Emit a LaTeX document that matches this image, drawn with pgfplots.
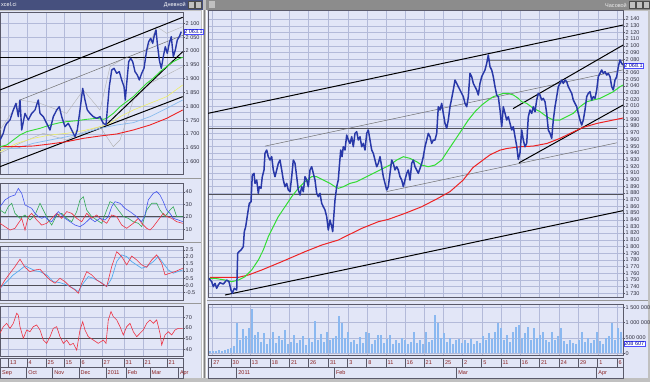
\documentclass[border=0pt]{standalone}
\usepackage{fontspec}
\setmainfont{Liberation Sans}
\usepackage{pgfplots}
\pgfplotsset{compat=1.18}
\definecolor{framec}{HTML}{C0C0C0}
\definecolor{bgc}{HTML}{E2E6F7}
\definecolor{gridc}{HTML}{B3BAD9}
\definecolor{bordc}{HTML}{5A5A6A}
\definecolor{labc}{HTML}{303040}
\definecolor{datec}{HTML}{8A2020}
\definecolor{pblue}{HTML}{2838A8}
\definecolor{magreen}{HTML}{33DD33}
\definecolor{mared}{HTML}{EE2222}
\definecolor{mayellow}{HTML}{EEEE66}
\definecolor{malblue}{HTML}{88BBEE}
\definecolor{chgray}{HTML}{707070}
\definecolor{hline}{HTML}{505058}
\definecolor{adxblue}{HTML}{4455EE}
\definecolor{adxgreen}{HTML}{33AA55}
\definecolor{indred}{HTML}{EE3344}
\definecolor{sigblue}{HTML}{55AAEE}
\definecolor{volc}{HTML}{8AB8F0}
\definecolor{titleL}{HTML}{46507E}
\definecolor{titleR}{HTML}{8C8C8C}
\pgfplotsset{
 panel/.style={
  scale only axis, anchor=south west,
  axis background/.style={fill=bgc},
  axis line style={draw=bordc, line width=0.7pt},
  xmajorgrids, ymajorgrids,
  grid style={draw=gridc, line width=0.4pt},
  xticklabels={}, xtick style={draw=none},
  ytick pos=right, yticklabel pos=right, tick align=outside,
  ytick style={draw=bordc, line width=0.4pt},
  major tick length=1.5pt,
  yticklabel style={font=\fontsize{5.5}{6}\selectfont, text=labc, inner sep=1pt},
  /pgf/number format/.cd, assume math mode=true, 1000 sep={~},
  /pgfplots/.cd, clip=true,
 },
 strip/.style={
  scale only axis, anchor=south west, ymin=0, ymax=1, ytick=\empty,
  axis background/.style={fill=bgc},
  axis line style={draw=bordc, line width=0.5pt},
  xmajorgrids, grid style={draw=bordc, line width=0.5pt},
  xtick style={draw=none},
  xticklabel style={anchor=base west, font=\fontsize{5.5}{6}\selectfont, text=datec, inner sep=0pt, xshift=1.5pt, yshift=2.2pt},
 },
}
\begin{document}
\begin{tikzpicture}[x=1pt,y=1pt]
\useasboundingbox (0,0) rectangle (650,382);
\fill[framec] (0,0) rectangle (650,382);
\fill[bgc] (0,4) rectangle (201,371);
\fill[bgc] (207,4) rectangle (648,371);
\draw[white, line width=0.8pt] (202.5,4) -- (202.5,372);
\draw[white, line width=0.8pt] (206.5,4) -- (206.5,372);
\draw[gray, line width=0.6pt] (204.5,4) -- (204.5,372);
% title bars
\fill[titleL] (0,372) rectangle (203,382);
\fill[titleR] (206,372) rectangle (650,382);
\node[anchor=west, text=white, font=\fontsize{5.5}{6}\selectfont, inner sep=0pt] at (1,377) {xcel.ci};
\node[anchor=east, text=white, font=\fontsize{5.5}{6}\selectfont, inner sep=0pt] at (186,377) {Дневной};
\foreach \bx in {188,195}{\fill[framec] (\bx,373.5) rectangle (\bx+6,380.5); \draw[black!70, line width=0.3pt] (\bx,373.5) rectangle (\bx+6,380.5);}
\fill[framec] (209,373.5) rectangle (215,380.5);
\node[anchor=east, text=white!85!gray, font=\fontsize{5.5}{6}\selectfont, inner sep=0pt] at (627,377) {Часовой};
\foreach \bx in {629,636,643}{\fill[framec] (\bx,373.5) rectangle (\bx+6,380.5); \draw[black!70, line width=0.3pt] (\bx,373.5) rectangle (\bx+6,380.5);}
% splitters
\draw[gray!80, line width=0.5pt] (0,204) -- (201,204);
\draw[gray!80, line width=0.5pt] (0,139.5) -- (201,139.5);
\draw[gray!80, line width=0.5pt] (0,79) -- (201,79);
\draw[gray!80, line width=0.5pt] (207,81.5) -- (648,81.5);

% ================= LEFT PRICE =================
\begin{axis}[panel, at={(0pt,208pt)}, width=183pt, height=162pt,
  xmin=0, xmax=183, ymin=1555.6, ymax=2140.8,
  ytick={1600,1650,...,2100}, xtick={8.5,27,46,64,80,102,124,143,167}]
\addplot[gray!60, line width=0.4pt] coordinates {(0,1714.5) (20,1822.9) (40,1810.9) (66.7,1774.7) (83.3,1859.0) (100,1786.8) (110,1943.3) (126.7,1979.5) (143.3,1967.5) (156.7,2087.9) (166.7,2063.8) (182.7,2087.9)};
\addplot[gray!60, line width=0.4pt] coordinates {(0,1630.2) (20,1666.4) (43.3,1702.5) (66.7,1678.4) (80,1702.5) (100,1726.6) (113.3,1654.3) (120,1678.4) (133.3,1822.9) (150,1883.1) (163.3,1907.2) (182.7,1943.3)};
\addplot[black, line width=1pt] coordinates {(0,1977.1) (183,1977.1)};
\addplot[black, line width=1pt] coordinates {(0,1859.0) (182.7,2121.6)};
\addplot[black, line width=1pt] coordinates {(0,1582.1) (182.7,1835.0)};
\addplot[chgray, line width=0.5pt] coordinates {(20,1822.9) (182.7,2056.5)};
\addplot[black, line width=1pt] coordinates {(106,1732.6) (182.7,1997.5)};
\addplot[mayellow, line width=0.6pt] coordinates {(0,1636.2) (16.7,1666.4) (33.3,1684.4) (50,1696.5) (66.7,1702.5) (83.3,1712.1) (100,1726.6) (110,1738.6) (120,1762.7) (133.3,1786.8) (150,1810.9) (166.7,1835.0) (182.7,1877.1)};
\addplot[malblue, line width=0.7pt] coordinates {(0,1648.3) (16.7,1648.3) (33.3,1666.4) (50,1678.4) (66.7,1690.4) (83.3,1702.5) (100,1720.6) (116.7,1732.6) (133.3,1741.0) (150,1762.7) (166.7,1792.8) (182.7,1822.9)};
\addplot[mared, line width=0.9pt] coordinates {(0,1654.3) (16.7,1654.3) (33.3,1656.7) (50,1664.0) (66.7,1672.4) (83.3,1684.4) (100,1692.9) (116.7,1700.1) (133.3,1714.5) (150,1732.6) (166.7,1756.7) (182.7,1786.8)};
\addplot[magreen, line width=0.9pt] coordinates {(0,1654.3) (6.7,1660.3) (13.3,1678.4) (20,1696.5) (26.7,1708.5) (33.3,1714.5) (40,1720.6) (50,1732.6) (60,1741.0) (66.7,1744.6) (76.7,1748.2) (86.7,1753.1) (96.7,1756.7) (103.3,1753.1) (106.7,1756.7) (113.3,1774.7) (120,1798.8) (126.7,1816.9) (133.3,1835.0) (140,1859.0) (146.7,1883.1) (153.3,1901.2) (160,1925.3) (166.7,1943.3) (173.3,1961.4) (180,1973.5) (182.7,1977.1)};
\addplot[pblue, line width=1.4pt, line join=round] coordinates {(0,1678.4) (3.3,1702.5) (5,1726.6) (6.7,1738.6) (10,1750.7) (13.3,1786.8) (16,1810.9) (18.3,1762.7) (20,1822.9) (21.7,1714.5) (25,1774.7) (28.3,1750.7) (31.7,1774.7) (35,1786.8) (38.3,1822.9) (40,1774.7) (43.3,1762.7) (46.7,1738.6) (50,1714.5) (53.3,1762.7) (56.7,1786.8) (59.3,1798.8) (61.7,1762.7) (65,1726.6) (68.3,1738.6) (71.7,1714.5) (75,1690.4) (77.3,1714.5) (80,1786.8) (82.7,1865.1) (85,1822.9) (87.3,1786.8) (90,1774.7) (93.3,1762.7) (96.7,1756.7) (100,1762.7) (103.3,1738.6) (106,1732.6) (107.3,1786.8) (109.3,1871.1) (111.7,1931.3) (114,1937.3) (116.7,1919.3) (119.3,1925.3) (121.7,1895.2) (124,1871.1) (125.3,1822.9) (126.7,1883.1) (128.7,1961.4) (130.7,1973.5) (132.7,1961.4) (135,1925.3) (137.3,1913.2) (139.3,1895.2) (141.7,1919.3) (144,1937.3) (146.7,2003.6) (148.7,2033.7) (150.7,2045.7) (152.7,2027.6) (154,2051.7) (156,2075.8) (157.3,2027.6) (159.3,1967.5) (161.3,1937.3) (163.3,1979.5) (165.3,2015.6) (167.3,1991.5) (169.3,2027.6) (171.3,2051.7) (173.3,1979.5) (175.3,2003.6) (177.3,2039.7) (179.3,2051.7) (181.3,2069.8)};
\end{axis}

% ================= LEFT ADX =================
\begin{axis}[panel, at={(0pt,143pt)}, width=183pt, height=56pt,
  xmin=0, xmax=183, ymin=2.2, ymax=47.2,
  ytick={10,20,30,40}, xtick={8.5,27,46,64,80,102,124,143,167}]
\addplot[hline, line width=0.8pt] coordinates {(0,20) (183,20)};
\addplot[adxgreen, line width=0.6pt] coordinates {(0,25.5) (5,22.8) (8.3,28.2) (11.7,30.9) (15,22.8) (20,18.8) (25,21.5) (30,17.5) (35,21.5) (40,30.9) (43.3,25.5) (48.3,17.5) (51.7,13.4) (56.7,21.5) (61.7,22.8) (66.7,18.8) (71.7,16.1) (76.7,24.2) (80,33.6) (83.3,36.2) (86.7,25.5) (91.7,20.2) (96.7,17.5) (101.7,14.8) (106.7,25.5) (110,32.2) (113.3,30.9) (118.3,25.5) (123.3,20.2) (128.3,18.8) (133.3,16.1) (138.3,14.8) (141.7,12.1) (146.7,25.5) (151.7,30.9) (156.7,30.9) (160,25.5) (165,20.2) (170,25.5) (173.3,28.2) (176.7,20.2) (182.7,20.2)};
\addplot[indred, line width=0.6pt] coordinates {(0,14.8) (5,12.1) (10,9.4) (15,10.8) (18.3,14.8) (21.7,18.8) (25,9.4) (28.3,20.2) (31.7,22.8) (36.7,17.5) (41.7,13.4) (46.7,14.8) (51.7,18.8) (56.7,22.8) (61.7,18.8) (66.7,24.2) (71.7,22.8) (76.7,18.8) (81.7,16.1) (86.7,22.8) (91.7,18.8) (96.7,21.5) (101.7,17.5) (106.7,14.8) (111.7,21.5) (116.7,20.2) (121.7,13.4) (126.7,10.8) (133.3,14.8) (138.3,18.8) (141.7,14.8) (146.7,10.8) (150,9.4) (153.3,12.1) (158.3,17.5) (163.3,22.8) (166.7,20.2) (171.7,18.8) (176.7,16.1) (182.7,14.8)};
\addplot[adxblue, line width=0.6pt] coordinates {(0,28.2) (5,33.6) (10,36.2) (15,37.6) (18.3,42.9) (21.7,38.9) (25,29.5) (28.3,28.2) (31.7,26.8) (35,22.8) (38.3,20.2) (41.7,18.8) (45,20.2) (48.3,17.5) (51.7,16.1) (55,20.2) (58.3,24.2) (61.7,21.5) (65,18.8) (70,16.1) (75,13.4) (80,12.1) (85,14.8) (90,18.8) (95,16.1) (100,18.8) (105,17.5) (108.3,20.2) (111.7,28.2) (115,32.2) (120,30.9) (125,26.8) (130,24.2) (136.7,20.2) (141.7,16.1) (145,21.5) (148.3,33.6) (153.3,38.9) (156.7,40.3) (160,37.6) (163.3,32.2) (166.7,25.5) (170,22.8) (173.3,18.8) (178.3,17.5) (182.7,16.1)};
\end{axis}

% ================= LEFT MACD =================
\begin{axis}[panel, at={(0pt,81.3pt)}, width=183pt, height=54.7pt,
  xmin=0, xmax=183, ymin=-1.10, ymax=2.78,
  ytick={-0.5,0,0.5,1,1.5,2,2.5}, yticklabels={-0.5,0.0,0.5,1.0,1.5,2.0,2.5},
  xtick={8.5,27,46,64,80,102,124,143,167}]
\addplot[hline, line width=0.8pt] coordinates {(0,0) (183,0)};
\addplot[sigblue, line width=0.7pt] coordinates {(0,-0.22) (6.7,0.25) (13.3,0.73) (20,1.08) (25,1.37) (30,1.20) (35,1.03) (40,0.96) (46.7,0.73) (53.3,0.25) (60,0.18) (66.7,0.02) (73.3,-0.22) (78.3,-0.45) (83.3,0.14) (88.3,0.61) (93.3,0.49) (100,0.25) (106.7,-0.10) (111.7,0.49) (116.7,1.67) (121.7,2.15) (126.7,2.03) (131.7,1.67) (136.7,1.44) (141.7,1.20) (146.7,1.32) (153.3,1.67) (158.3,2.03) (163.3,1.55) (168.3,1.08) (173.3,0.85) (182.7,1.08)};
\addplot[indred, line width=0.6pt] coordinates {(0,-0.22) (5,0.37) (10,0.85) (15,1.32) (20,1.84) (25,1.27) (30,0.96) (35,1.08) (40,1.13) (45,0.73) (50,0.37) (55,0.14) (60,0.49) (65,0.25) (70,-0.10) (75,-0.34) (78.3,-0.57) (81.7,0.14) (86.7,0.96) (91.7,0.73) (96.7,0.37) (101.7,0.14) (106.7,-0.10) (111.7,1.32) (116.7,2.38) (121.7,2.03) (126.7,1.44) (131.7,2.07) (136.7,1.79) (141.7,1.44) (146.7,1.27) (151.7,1.79) (156.7,2.15) (161.7,1.55) (165,0.73) (170,0.85) (175,0.96) (182.7,1.20)};
\end{axis}

% ================= LEFT RSI =================
\begin{axis}[panel, at={(0pt,25.3pt)}, width=183pt, height=50pt,
  xmin=0, xmax=183, ymin=33.1, ymax=79.9,
  ytick={40,50,60,70}, xtick={8.5,27,46,64,80,102,124,143,167}]
\addplot[hline, line width=0.8pt] coordinates {(0,50) (183,50)};
\addplot[indred, line width=0.6pt] coordinates {(0,55.0) (3.3,61.2) (6.7,64.3) (10,59.6) (13.3,64.3) (16.7,73.7) (18.3,72.1) (20,61.2) (23.3,50.3) (26.7,58.1) (30,56.5) (33.3,61.2) (36.7,62.8) (40,58.1) (43.3,48.7) (46.7,45.6) (50,51.8) (53.3,59.6) (56.7,61.2) (60,51.8) (63.3,45.6) (66.7,48.7) (70,44.0) (73.3,45.6) (76.7,39.3) (80,58.1) (82.7,65.9) (85,58.1) (88.3,51.8) (93.3,48.7) (98.3,45.6) (103.3,48.7) (106,45.6) (108.3,67.5) (111,75.3) (113.3,70.6) (116.7,67.5) (120,61.2) (123.3,53.4) (126.7,61.2) (130,64.3) (133.3,56.5) (136.7,51.8) (140,55.0) (143.3,58.1) (146.7,64.3) (150,67.5) (153.3,64.3) (156.7,67.5) (160,55.0) (161.7,44.0) (165,53.4) (168.3,56.5) (171.7,53.4) (175,58.1) (178.3,59.6) (182.7,59.6)};
\end{axis}

% ================= LEFT DATE STRIP =================
\begin{axis}[strip, at={(0pt,15pt)}, width=183pt, height=9pt, xmin=0, xmax=183,
  xtick={8.5,27,46,64,80,102,124,143,167}, xticklabels={13,4,25,15,6,27,31,21,21}]
\addplot[draw=none] coordinates {(10,0.5)};
\end{axis}
\begin{axis}[strip, at={(0pt,4pt)}, width=183pt, height=11pt, xmin=0, xmax=183,
  xtick={0.5,26.7,52.7,79,106,126,150,178.3}, xticklabels={Sep,Oct,Nov,Dec,2011,Feb,Mar,Apr},
  xticklabel style={yshift=1.3pt}]
\addplot[draw=none] coordinates {(10,0.5)};
\end{axis}

% ================= RIGHT PRICE =================
\begin{axis}[panel, at={(208pt,84.7pt)}, width=415pt, height=287.3pt,
  xmin=208, xmax=623, ymin=1724, ymax=2153.5,
  ytick={1730,1740,...,2060,2080,2090,...,2140},
  extra y ticks={2070}, extra y tick labels={},
  xtick={211.7,231,250,270,289.3,308.3,328.3,347.7,366.7,386,405,424,443.3,462.3,481.7,501,520,539.3,559,578.3,597.7,617}]
\addplot[hline, line width=1.2pt] coordinates {(208,1976.6) (617,1976.6)};
\addplot[hline, line width=1pt] coordinates {(208,1877) (623,1877)};
\addplot[gray, line width=0.8pt] coordinates {(488,2078) (623,2078)};
\addplot[black, line width=1pt] coordinates {(208,1999) (623,2131)};
\addplot[black, line width=1pt] coordinates {(225,1727.4) (623,1853.5)};
\addplot[chgray, line width=0.5pt] coordinates {(265,1950) (623,2064)};
\addplot[chgray, line width=0.5pt] coordinates {(386.7,1882) (617,1955)};
\addplot[black, line width=1pt] coordinates {(513,2006) (623,2101)};
\addplot[black, line width=1pt] coordinates {(519,1925) (623,2011.4)};
\addplot[mared, line width=1pt] coordinates {(210,1753.8) (238.3,1753.8) (248.3,1757.3) (261.7,1764.8) (281.7,1777.2) (305,1792.2) (321.7,1802.1) (338.3,1809.6) (348.3,1817.1) (361.7,1827.0) (378.3,1837.0) (388.3,1840.5) (405,1849.5) (421.7,1859.4) (438,1872) (450,1882) (463,1899) (473,1918) (490,1937) (500,1944) (507,1946.5) (520,1949) (533,1950) (547,1954) (560,1961.6) (573,1971) (583,1978) (597,1984) (610,1988) (623,1992)};
\addplot[magreen, line width=1pt] coordinates {(209,1752.3) (215,1752.3) (225,1749.8) (231.7,1747.3) (238.3,1749.8) (245,1754.8) (251.7,1764.8) (258.3,1779.7) (263.3,1794.7) (268.3,1814.6) (273.3,1829.6) (278.3,1844.5) (285,1859.4) (291.7,1874.4) (298.3,1886.9) (305,1896.8) (311.7,1904.3) (316.7,1904.3) (323.3,1899.3) (330,1894.3) (335,1889.3) (338.3,1886.9) (343.3,1889.3) (350,1894.3) (356.7,1896.8) (363.3,1901.8) (370,1906.8) (376.7,1911.8) (383.3,1916.7) (390,1921.7) (396.7,1929.2) (403.3,1934.2) (410,1931.7) (416.7,1926.7) (421.7,1921.7) (428.3,1919.2) (435,1921.7) (441.7,1929.2) (448.3,1944.2) (455,1959.1) (461.7,1974.1) (468.3,1989.0) (475,2001.5) (481.7,2011.4) (488.3,2018.9) (493.3,2023.9) (498.3,2026.4) (503.3,2028.9) (508.3,2028.9) (513.3,2026.4) (518.3,2021.4) (521.7,2016.4) (526.7,2013.9) (533.3,2006.5) (540,2001.5) (546.7,1994.0) (553.3,1989.0) (560,1989.0) (566.7,1994.0) (573.3,1999.0) (580,2008.9) (586.7,2016.4) (593.3,2018.9) (600,2021.4) (606.7,2026.4) (613.3,2031.4) (620,2038.8) (623,2041.3)};
\addplot[pblue, line width=1.5pt, line join=round] coordinates {(209.0,1752.3) (211.7,1747.3) (213.3,1739.9) (215.0,1744.8) (216.7,1737.4) (218.3,1742.4) (220.0,1745.8) (223.3,1743.8) (226.7,1749.8) (229.0,1747.3) (231.0,1734.9) (232.3,1729.9) (234.3,1737.4) (236.7,1734.9) (237.7,1789.7) (239.0,1792.2) (241.0,1794.7) (243.3,1799.7) (244.3,1822.1) (245.7,1829.6) (247.7,1849.5) (249.3,1864.4) (251.0,1866.9) (252.3,1906.8) (254.0,1909.3) (255.0,1894.3) (256.7,1899.3) (258.3,1879.4) (259.3,1889.4) (261.0,1886.9) (262.3,1904.3) (264.0,1914.3) (265.0,1939.2) (266.7,1944.2) (268.3,1934.2) (270.0,1929.2) (271.7,1934.2) (273.3,1914.3) (275.0,1904.3) (276.7,1914.3) (278.3,1924.2) (280.0,1929.2) (281.7,1914.3) (283.3,1899.3) (285.0,1889.4) (286.7,1894.3) (288.3,1884.4) (290.0,1881.9) (291.7,1904.3) (293.3,1929.2) (295.0,1924.2) (296.7,1904.3) (298.3,1884.4) (300.0,1876.9) (301.7,1889.4) (303.3,1881.9) (305.0,1904.3) (306.7,1899.3) (308.3,1889.4) (310.0,1914.3) (311.7,1919.2) (313.3,1909.3) (315.0,1899.3) (316.7,1879.4) (318.3,1874.4) (320.0,1879.4) (321.7,1864.4) (323.3,1859.4) (325.0,1854.5) (326.7,1844.5) (328.3,1824.6) (330.0,1839.5) (331.7,1829.6) (332.7,1822.1) (334.0,1849.5) (335.0,1869.4) (336.7,1889.4) (338.3,1899.3) (339.3,1919.2) (340.7,1944.2) (342.0,1934.2) (343.3,1949.1) (345.0,1944.2) (346.7,1966.6) (348.3,1959.1) (350.0,1954.1) (351.7,1964.1) (353.3,1949.1) (355.0,1969.1) (356.7,1971.6) (358.3,1959.1) (360.0,1964.1) (361.7,1949.1) (363.3,1954.1) (365.0,1944.2) (366.7,1969.1) (368.3,1974.1) (370.0,1959.1) (371.7,1944.2) (373.3,1939.2) (375.0,1929.2) (376.7,1919.2) (378.3,1924.2) (380.0,1934.2) (381.7,1919.2) (383.3,1904.3) (385.0,1894.3) (386.7,1884.4) (388.3,1889.4) (390.0,1909.3) (391.7,1929.2) (393.3,1924.2) (395.0,1914.3) (396.7,1919.2) (398.3,1914.3) (400.0,1904.3) (401.7,1899.3) (403.3,1889.4) (405.0,1899.3) (406.7,1909.3) (408.3,1914.3) (410.0,1899.3) (411.7,1924.2) (413.3,1929.2) (415.0,1919.2) (416.7,1914.3) (418.3,1909.3) (420.0,1916.7) (421.7,1924.2) (423.3,1934.2) (425.0,1949.1) (426.7,1959.1) (428.3,1969.1) (430.0,1964.1) (431.7,1954.1) (433.3,1959.1) (435.0,1959.1) (436.7,1969.1) (438.3,2008.9) (440.0,2003.9) (441.7,2013.9) (443.3,1999.0) (445.0,1984.0) (446.7,1976.6) (448.3,1989.0) (450.0,2008.9) (451.7,2021.4) (453.3,2033.9) (455.0,2048.8) (456.7,2043.8) (458.3,2038.8) (460.0,2033.9) (461.7,2028.9) (463.3,2023.9) (465.0,2013.9) (466.7,2008.9) (468.3,2023.9) (470.0,2058.8) (471.7,2053.8) (473.3,2043.8) (475.0,2038.8) (476.7,2033.9) (478.3,2026.4) (480.0,2043.8) (481.7,2053.8) (483.3,2058.8) (485.0,2063.8) (486.7,2073.7) (488.3,2086.2) (490.0,2068.7) (491.7,2063.8) (493.3,2053.8) (495.0,2038.8) (496.7,2026.4) (498.3,2023.9) (500.0,2004.0) (501.7,1979.0) (503.3,2008.9) (505.0,1999.0) (506.7,1989.0) (508.3,1994.0) (510.0,1984.0) (511.7,1974.1) (513.3,1979.0) (515.0,1964.1) (516.7,1950.1) (518.3,1930.2) (520.0,1940.2) (521.7,1974.1) (523.3,1959.1) (525.0,1949.1) (526.7,1954.1) (528.3,1994.0) (530.0,2004.0) (531.7,1999.0) (533.3,2008.9) (535.0,2001.5) (536.7,2018.9) (538.3,2028.9) (540.0,2026.4) (541.7,2018.9) (543.3,2021.4) (545.0,2016.4) (546.7,1999.0) (548.3,1974.1) (550.0,1969.1) (551.7,1961.6) (553.3,1989.0) (555.0,2008.9) (556.7,2023.9) (558.3,2038.8) (560.0,2043.8) (561.7,2048.8) (563.3,2043.8) (565.0,2048.8) (566.7,2046.3) (568.3,2038.8) (570.0,2033.9) (571.7,2028.9) (573.3,2018.9) (575.0,2013.9) (576.7,2008.9) (578.3,1999.0) (580.0,1989.0) (581.7,1981.5) (583.3,1989.0) (585.0,2004.0) (586.7,2023.9) (588.3,2028.9) (590.0,2031.4) (591.7,2018.9) (593.3,2023.9) (595.0,2021.4) (596.7,2033.9) (598.3,2053.8) (600.0,2058.8) (601.7,2063.8) (603.3,2058.8) (605.0,2061.3) (606.7,2056.3) (608.3,2058.8) (610.0,2053.8) (611.7,2038.8) (613.3,2033.9) (615.0,2048.8) (616.7,2053.8) (618.3,2068.7) (620.0,2078.7) (621.7,2073.7) (623.0,2071.2)};
\end{axis}

% ================= RIGHT VOLUME =================
\begin{axis}[panel, at={(208pt,26.3pt)}, width=415pt, height=51.7pt,
  xmin=208, xmax=623, ymin=-78, ymax=1608,
  ytick={0,500,1000,1500}, yticklabels={0,500 000,1 000 000,1 500 000},
  xtick={211.7,231,250,270,289.3,308.3,328.3,347.7,366.7,386,405,424,443.3,462.3,481.7,501,520,539.3,559,578.3,597.7,617}]
\addplot[ycomb, volc, line width=2.5pt] coordinates {(210,70) (213,90) (216,60) (219,110) (222,80) (225,100) (228,130) (231,180) (234,250) (237,1000) (240,420) (243,780) (246,550) (249,820) (252,1440) (255,600) (258,700) (261,380) (264,650) (267,300) (270,480) (273,700) (276,350) (279,550) (282,420) (285,750) (288,300) (291,380) (294,600) (297,330) (300,450) (303,550) (306,280) (309,500) (312,380) (315,1040) (318,450) (321,620) (324,380) (327,700) (330,420) (333,500) (336,560) (339,1210) (342,980) (345,500) (348,700) (351,380) (354,450) (357,300) (360,520) (363,350) (366,700) (369,650) (372,300) (375,450) (378,590) (381,600) (384,330) (387,480) (390,590) (393,300) (396,420) (399,350) (402,500) (405,450) (408,300) (411,380) (414,700) (417,350) (420,420) (423,300) (426,700) (429,380) (432,420) (435,1250) (438,1000) (441,500) (444,650) (447,380) (450,500) (453,300) (456,420) (459,480) (462,350) (465,420) (468,350) (471,480) (474,300) (477,400) (480,350) (483,550) (486,420) (489,650) (492,480) (495,700) (498,1000) (501,820) (504,450) (507,600) (510,380) (513,700) (516,870) (519,930) (522,500) (525,650) (528,870) (531,450) (534,820) (537,500) (540,600) (543,700) (546,450) (549,380) (552,700) (555,450) (558,550) (561,820) (564,400) (567,300) (570,450) (573,350) (576,300) (579,420) (582,700) (585,380) (588,500) (591,350) (594,450) (597,700) (600,400) (603,300) (606,500) (609,550) (612,990) (615,450) (618,820) (621,700)};
\end{axis}

% ================= RIGHT DATE STRIP =================
\begin{axis}[strip, at={(208pt,15pt)}, width=415pt, height=9pt, xmin=208, xmax=623,
  xtick={211.7,231,250,270,289.3,308.3,328.3,347.7,366.7,386,405,424,443.3,462.3,481.7,501,520,539.3,559,578.3,597.7,617},
  xticklabels={27,30,13,18,21,26,31,3,8,11,16,21,25,2,5,11,16,21,24,29,1,6}]
\addplot[draw=none] coordinates {(300,0.5)};
\end{axis}
\begin{axis}[strip, at={(208pt,4pt)}, width=415pt, height=11pt, xmin=208, xmax=623,
  xtick={236.7,334.3,456.7,596.7}, xticklabels={2011,Feb,Mar,Apr},
  xticklabel style={yshift=1.3pt}]
\addplot[draw=none] coordinates {(300,0.5)};
\end{axis}

% value boxes
\node[draw=blue!70, fill=white, text=blue!60!black, inner sep=0.6pt, font=\fontsize{5.5}{6}\selectfont, anchor=west] at (623.5,316.5) {2 068.1};
\node[draw=blue!70, fill=white, text=blue!60!black, inner sep=0.6pt, font=\fontsize{5.5}{6}\selectfont, anchor=west] at (183.5,350.5) {2 063.1};
\node[draw=blue!70, fill=white, text=blue!60!black, inner sep=0.6pt, font=\fontsize{5.5}{6}\selectfont, anchor=west] at (623.5,38) {208 607};
\end{tikzpicture}
\end{document}
